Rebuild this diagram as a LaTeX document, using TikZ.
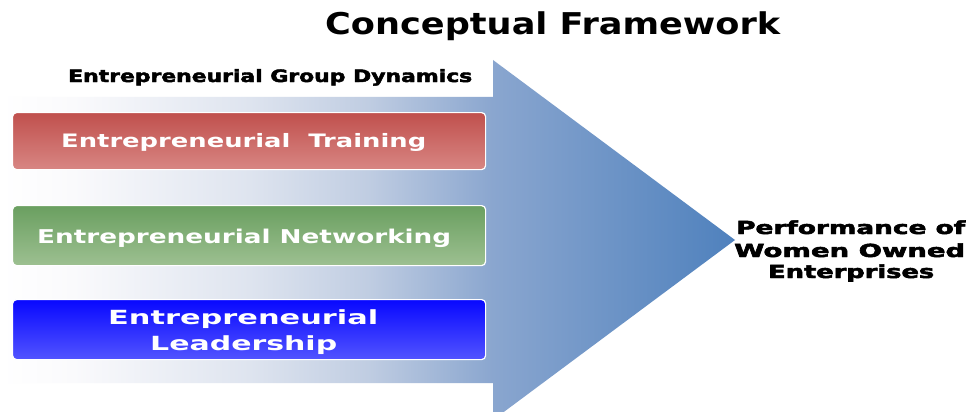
\documentclass[tikz,border=0pt]{standalone}
\usepackage{fontspec}
\setmainfont{DejaVu Sans}
\newfontfamily\vb{DejaVu Sans Bold}
\newfontfamily\vbh{DejaVu Sans Bold}[FakeBold=2.5]
\usepackage{graphicx}
\definecolor{arrowblue}{RGB}{79,129,189}
\definecolor{sA}{RGB}{250,250,252}
\definecolor{sB}{RGB}{222,228,239}
\definecolor{sC}{RGB}{192,205,226}
\definecolor{sD}{RGB}{138,166,207}
\definecolor{trtop}{RGB}{192,80,77}
\definecolor{trbot}{RGB}{216,134,131}
\definecolor{nwtop}{RGB}{106,159,96}
\definecolor{nwbot}{RGB}{157,192,145}
\definecolor{ldtop}{RGB}{8,8,255}
\definecolor{ldbot}{RGB}{82,84,255}
\pgfdeclarehorizontalshading{arrowshade}{100bp}{color(0bp)=(white); color(25bp)=(white); color(30bp)=(sA); color(42bp)=(sB); color(50bp)=(sC); color(58.5bp)=(sD); color(75bp)=(arrowblue); color(100bp)=(arrowblue)}
\newcommand{\fitline}[3]{\resizebox{#1pt}{\height}{\fontsize{#2}{#2}\selectfont #3}}
\tikzset{
  txt/.style={inner sep=0pt, anchor=base west},
  boxshape/.style={draw=white, line width=1.2pt, rounded corners=4pt, anchor=north west, minimum width=473pt, minimum height=57pt, inner sep=0pt},
}
\begin{document}
\begin{tikzpicture}[x=1pt,y=-1pt]
\useasboundingbox (0,0) rectangle (967,412);
\clip (0,0) rectangle (967,412);
\fill[white] (0,0) rectangle (967,412);
\shade[shading=arrowshade] (0,97) -- (493,97) -- (493,60) -- (735,240) -- (493,420) -- (493,383) -- (0,383) -- cycle;
\node[boxshape, top color=trtop, bottom color=trbot] (train) at (12,112) {};
\node[boxshape, top color=nwtop, bottom color=nwbot, minimum height=60pt] (netw) at (12,205) {};
\node[boxshape, top color=ldtop, bottom color=ldbot, minimum height=60pt] (lead) at (12,299) {};
\node[txt] (title) at (325,35) {\fitline{455}{30}{\vb Conceptual Framework}};
\node[txt] (group) at (68,82) {\fitline{404}{17}{\vbh Entrepreneurial Group Dynamics}};
\node[txt, text=white] (trtext) at (61,147) {\fitline{365}{18.5}{\vb Entrepreneurial\ \ Training}};
\node[txt, text=white] (nwtext) at (37,243) {\fitline{414}{19}{\vb Entrepreneurial Networking}};
\node[txt, text=white] (ldtextA) at (108,324) {\fitline{270}{19.5}{\vb Entrepreneurial}};
\node[txt, text=white] (ldtextB) at (150,350) {\fitline{187}{19.5}{\vb Leadership}};
\node[txt] (perfA) at (736,234) {\fitline{229}{18}{\vbh Performance of}};
\node[txt] (perfB) at (734,257) {\fitline{231}{18}{\vbh Women Owned}};
\node[txt] (perfC) at (768,278) {\fitline{166}{18}{\vbh Enterprises}};
\end{tikzpicture}
\end{document}
